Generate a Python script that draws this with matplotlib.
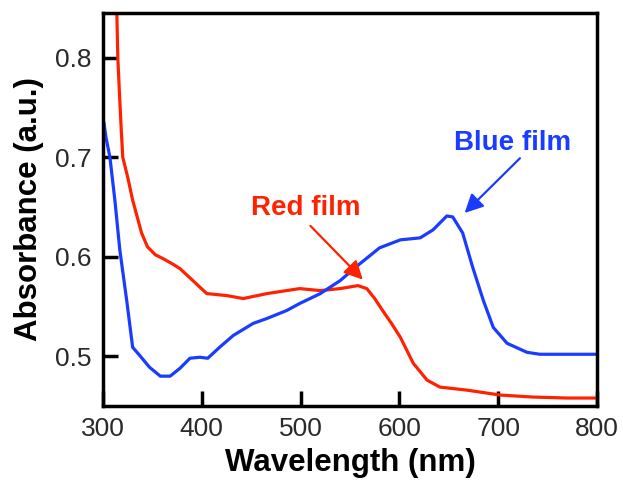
import matplotlib.pyplot as plt

plt.rcParams['font.family'] = ['Liberation Sans', 'DejaVu Sans']

# red film spectrum
red_nm = [314, 315, 317, 318.5, 320, 325, 330, 339, 345, 353, 361, 370, 378, 391, 405,
          425, 442, 466, 499, 520, 540, 558, 567, 575, 583, 592, 601, 614, 628, 641,
          668, 702, 735, 770, 800]
red_abs = [0.845, 0.80, 0.757, 0.727, 0.70, 0.68, 0.657, 0.624, 0.610, 0.602, 0.598,
           0.593, 0.588, 0.576, 0.563, 0.561, 0.558, 0.563, 0.568, 0.566, 0.568, 0.571,
           0.568, 0.558, 0.546, 0.533, 0.519, 0.493, 0.476, 0.469, 0.466, 0.461, 0.459,
           0.458, 0.458]

# blue film spectrum
blue_nm = [301, 303, 307, 312, 317, 324, 330, 337, 347, 358, 368, 378, 388, 398, 406,
           418, 432, 452, 466, 486, 499, 520, 540, 560, 580, 601, 621, 634, 648, 654,
           664, 674, 685, 695, 709, 729, 742, 800]
blue_abs = [0.734, 0.72, 0.700, 0.657, 0.607, 0.556, 0.509, 0.501, 0.489, 0.480, 0.480,
            0.488, 0.498, 0.499, 0.498, 0.509, 0.521, 0.533, 0.538, 0.546, 0.553, 0.563,
            0.576, 0.593, 0.609, 0.617, 0.619, 0.627, 0.641, 0.640, 0.624, 0.590, 0.556,
            0.529, 0.513, 0.504, 0.502, 0.502]

red = '#ff2200'
blue = '#1a3cff'

fig = plt.figure(figsize=(6.23, 4.82), dpi=100)
ax = fig.add_axes([103 / 623, 1 - 406 / 482, 494 / 623, 393 / 482])

ax.plot(red_nm, red_abs, color=red, lw=2.3)
ax.plot(blue_nm, blue_abs, color=blue, lw=2.3)

ax.set_xlim(300, 800)
ax.set_ylim(0.45, 0.845)
ax.set_xticks([300, 400, 500, 600, 700, 800])
ax.set_yticks([0.5, 0.6, 0.7, 0.8])
ax.tick_params(direction='in', length=11, width=2.5, labelsize=19,
               labelcolor='#2a2a2a', pad=8)
for s in ax.spines.values():
    s.set_linewidth(2.5)

ax.set_xlabel('Wavelength (nm)', fontsize=22.5, fontweight='bold', labelpad=5)
ax.set_ylabel('Absorbance (a.u.)', fontsize=22.5, fontweight='bold', labelpad=8)

ax.text(505, 0.649, 'Red film', color=red, fontsize=20, fontweight='bold',
        ha='center', va='center')
ax.annotate('', xy=(563, 0.577), xytext=(510, 0.631),
            arrowprops=dict(arrowstyle='-|>', color=red, lw=1.6,
                            mutation_scale=28, shrinkA=0, shrinkB=0))
ax.text(715, 0.714, 'Blue film', color=blue, fontsize=20, fontweight='bold',
        ha='center', va='center')
ax.annotate('', xy=(666, 0.644), xytext=(722, 0.699),
            arrowprops=dict(arrowstyle='-|>', color=blue, lw=1.6,
                            mutation_scale=28, shrinkA=0, shrinkB=0))

fig.savefig('out.png', dpi=100)
